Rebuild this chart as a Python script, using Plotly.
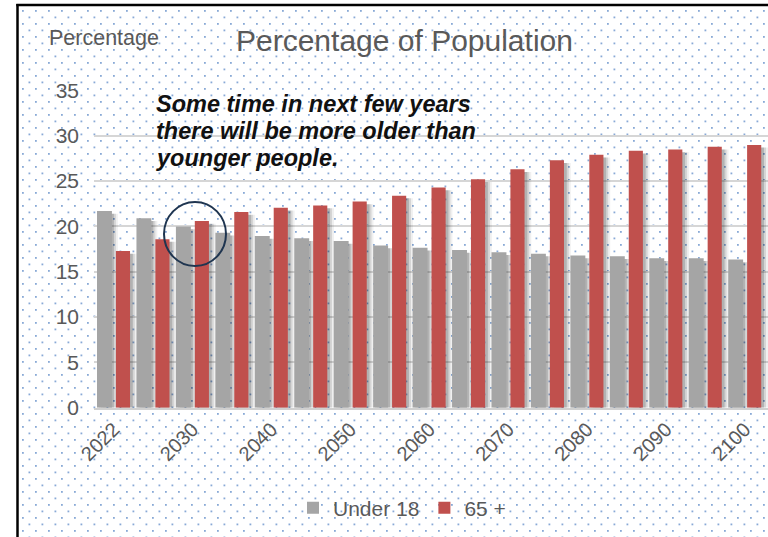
import base64
import plotly.graph_objects as go

W, H = 768, 537

# ---- data ----
years = ["2022", "2025", "2030", "2035", "2040", "2045", "2050", "2055", "2060",
         "2065", "2070", "2075", "2080", "2085", "2090", "2095", "2100"]
tick_years = ["2022", "2030", "2040", "2050", "2060", "2070", "2080", "2090", "2100"]
under18 = [21.7, 20.9, 20.0, 19.3, 18.95, 18.7, 18.4, 17.9, 17.65, 17.4, 17.15,
           17.0, 16.8, 16.7, 16.5, 16.5, 16.35]
over65 = [17.3, 18.6, 20.6, 21.6, 22.05, 22.3, 22.75, 23.4, 24.3, 25.2, 26.3,
          27.3, 27.9, 28.35, 28.5, 28.8, 29.0]
y_ticks = [0, 5, 10, 15, 20, 25, 30, 35]
note_lines = ["Some time in next few years", "there will be more older than",
              "younger people."]

GRAY = "#a5a5a5"
RED = "#c0504d"
TXT = "#595959"
FONT = "Liberation Sans, Arial, sans-serif"


def px(x):
    return x / W


def py(y):
    return 1 - y / H


cat_w = (W - 94) / len(years)  # px per category


def off(p):
    return p / cat_w


fig = go.Figure()

# soft drop shadows
for vals, o in ((under18, -16.8), (over65, 2.2)):
    for d, a in ((2.0, 0.16), (4.0, 0.11), (6.0, 0.06)):
        fig.add_trace(go.Bar(
            x=years, y=[v - 0.3 for v in vals], offset=off(o + d), width=off(15),
            marker=dict(color=f"rgba(0,0,0,{a})", line=dict(width=0)),
            showlegend=False, hoverinfo="skip"))

fig.add_trace(go.Bar(x=years, y=under18, name="Under 18", offset=off(-16.8), width=off(15),
                     marker=dict(color=GRAY, line=dict(width=0))))
fig.add_trace(go.Bar(x=years, y=over65, name="65 +", offset=off(2.2), width=off(14.2),
                     marker=dict(color=RED, line=dict(width=0))))

# dotted background pattern (decoration)
pw, ph = W - 19, H - 7
svg = (f'<svg xmlns="http://www.w3.org/2000/svg" width="{pw}" height="{ph}">'
       '<defs><pattern id="p" width="13" height="13" patternUnits="userSpaceOnUse">'
       '<rect x="3" y="3" width="1.8" height="1.8" fill="#3f74bd" fill-opacity="0.62"/>'
       '<rect x="9.5" y="9.5" width="1.8" height="1.8" fill="#3f74bd" fill-opacity="0.62"/>'
       '</pattern></defs><rect width="100%" height="100%" fill="url(#p)"/></svg>')
src = "data:image/svg+xml;base64," + base64.b64encode(svg.encode()).decode()

annotations = [
    dict(text="Percentage of Population", xref="paper", yref="paper",
         x=px(404), y=py(40), xanchor="center", yanchor="middle", showarrow=False,
         font=dict(size=30, color=TXT, family=FONT)),
    dict(text="Percentage", xref="paper", yref="paper", x=px(47), y=py(38),
         xanchor="left", yanchor="middle", showarrow=False,
         font=dict(size=21.5, color=TXT, family=FONT)),
]
for i, line in enumerate(note_lines):
    annotations.append(dict(
        text=f"<b><i>{line}</i></b>", xref="paper", yref="paper",
        x=px(154), y=py(104 + 27 * i), xanchor="left", yanchor="middle",
        align="left", showarrow=False,
        font=dict(size=23.5, color="#111111", family=FONT)))

fig.update_layout(
    width=W, height=H,
    margin=dict(l=0, r=0, t=0, b=0, autoexpand=False),
    paper_bgcolor="white",
    plot_bgcolor="rgba(0,0,0,0)",
    barmode="overlay",
    font=dict(family=FONT, color=TXT),
    images=[dict(source=src, xref="paper", yref="paper", x=px(19), y=py(7),
                 sizex=px(pw), sizey=ph / H, xanchor="left", yanchor="top",
                 sizing="stretch", layer="below")],
    xaxis=dict(domain=[px(94), 1], type="category", categoryorder="array",
               categoryarray=years, tickmode="array", tickvals=tick_years,
               ticktext=tick_years, tickangle=-45, tickfont=dict(size=20, color=TXT),
               showgrid=False, showline=True, linecolor="#d0d0d0", linewidth=2,
               ticks="", zeroline=False),
    yaxis=dict(domain=[py(407.7), py(90.5)], range=[0, 35], tickvals=y_ticks,
               tickfont=dict(size=21, color=TXT), showgrid=True, gridcolor="#d6d6d6",
               gridwidth=2, zeroline=False, showline=False, ticks="",
               ticklabelstandoff=14),
    showlegend=True,
    legend=dict(orientation="h", x=px(402), xanchor="center", y=py(508), yanchor="middle",
                font=dict(size=21, color=TXT), bgcolor="rgba(0,0,0,0)",
                itemwidth=30, tracegroupgap=0),
    annotations=annotations,
    shapes=[
        dict(type="circle", xref="paper", yref="paper", x0=px(164), x1=px(226),
             y0=py(266), y1=py(202), line=dict(color="#1f3550", width=2)),
        dict(type="line", xref="paper", yref="paper", x0=px(17.5), x1=px(17.5),
             y0=py(4), y1=py(H + 2), line=dict(color="black", width=2.5)),
        dict(type="line", xref="paper", yref="paper", x0=px(16.3), x1=px(W + 2),
             y0=py(5), y1=py(5), line=dict(color="black", width=2.5)),
    ],
)

fig.write_html("out.html")
